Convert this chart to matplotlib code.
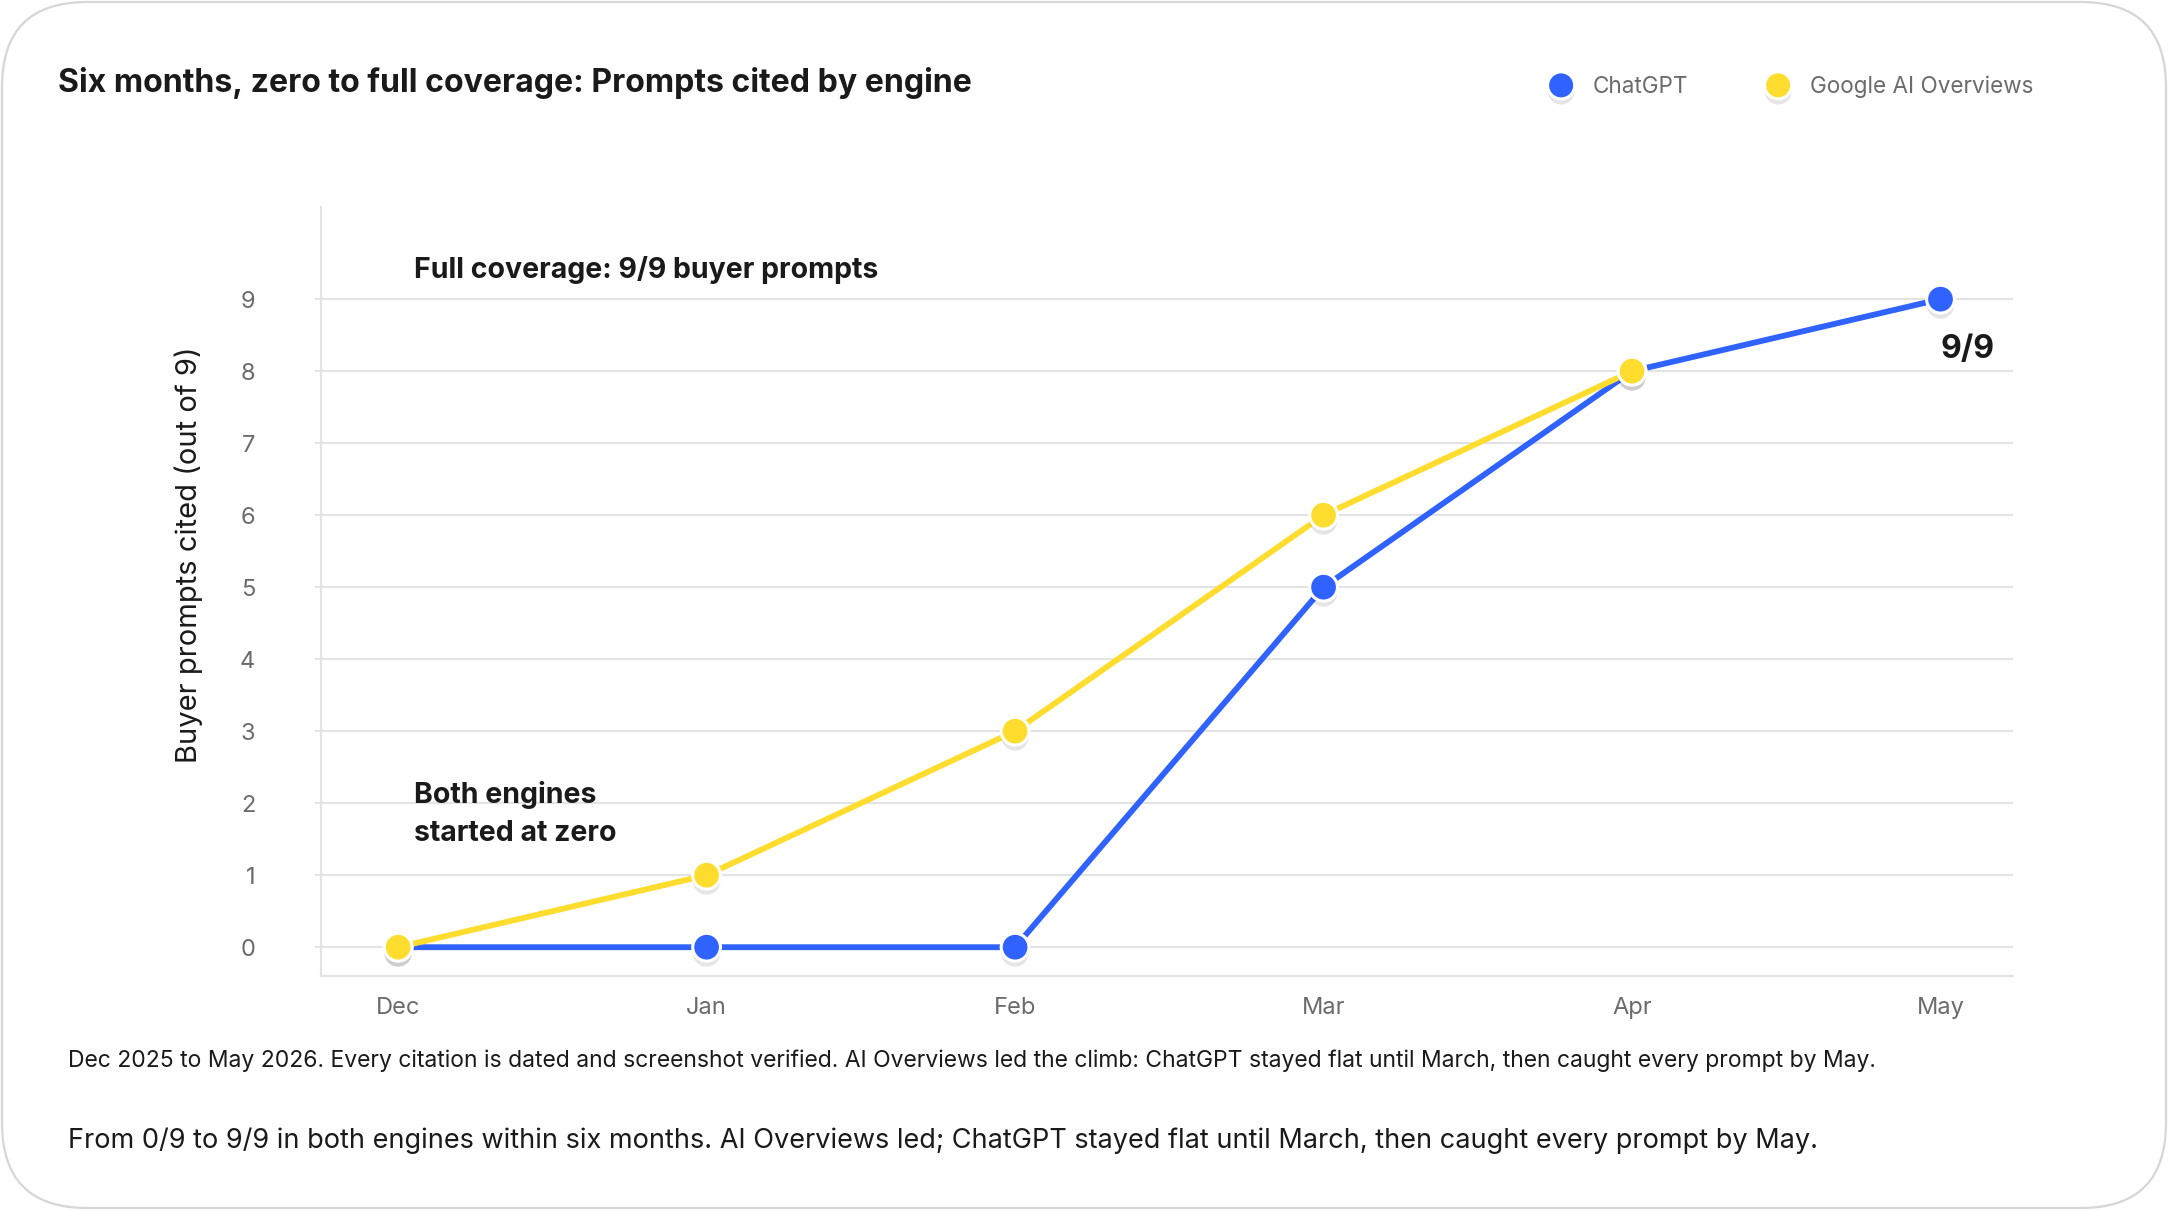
import matplotlib
matplotlib.use("Agg")
import matplotlib.pyplot as plt
from matplotlib.lines import Line2D
from matplotlib.patches import FancyBboxPatch
from matplotlib.transforms import IdentityTransform
import matplotlib.patheffects as pe

months = ["Dec", "Jan", "Feb", "Mar", "Apr", "May"]
chatgpt = [0, 0, 0, 5, 8, 9]
google_aio = [0, 1, 3, 6, 8]
y_ticks = [0, 1, 2, 3, 4, 5, 6, 7, 8, 9]

BLUE = "#2F62FF"
YELLOW = "#FFDD2E"
GRID = "#E3E3E3"
DARK = "#1A1A1A"
GRAY = "#6B6B6B"

plt.rcParams["font.family"] = ["Inter", "DejaVu Sans"]

W, H = 2168, 1210
fig = plt.figure(figsize=(W / 100, H / 100), dpi=100)
fig.patch.set_facecolor("white")

# rounded card border
card = FancyBboxPatch((2, 2), W - 4, H - 4, boxstyle="round,pad=0,rounding_size=85",
                      transform=IdentityTransform(), facecolor="white",
                      edgecolor="#D6D6D6", linewidth=1.6, zorder=0)
fig.add_artist(card)

ax = fig.add_axes([321 / W, 1 - 976 / H, (2013 - 321) / W, (976 - 207) / H])
ax.set_facecolor("none")
x_idx = list(range(len(months)))
ax.set_xlim(-0.25, 5.235)
ax.set_ylim(-0.40, 10.28)

ax.set_yticks(y_ticks)
ax.set_yticklabels([str(t) for t in y_ticks])
ax.set_xticks(x_idx)
ax.set_xticklabels(months)
ax.grid(axis="y", color=GRID, linewidth=1.5, zorder=1)
ax.grid(axis="x", visible=False)
ax.tick_params(axis="y", length=4.3, width=1.5, color=GRID, pad=43,
               labelsize=17, labelcolor=GRAY)
ax.tick_params(axis="x", length=0, pad=15, labelsize=17, labelcolor=GRAY)
for s in ["top", "right"]:
    ax.spines[s].set_visible(False)
for s in ["left", "bottom"]:
    ax.spines[s].set_color(GRID)
    ax.spines[s].set_linewidth(1.5)

shadow = [pe.SimplePatchShadow(offset=(0, -4), shadow_rgbFace="#000000", alpha=0.10),
          pe.Normal()]

ax.plot(x_idx[:len(chatgpt)], chatgpt, color=BLUE, linewidth=4.2, zorder=3,
        solid_capstyle="round")
ax.plot(x_idx[:len(google_aio)], google_aio, color=YELLOW, linewidth=4.2, zorder=4,
        solid_capstyle="round")
ax.plot(x_idx[:len(chatgpt)], chatgpt, linestyle="none", marker="o", markersize=20,
        markerfacecolor=BLUE, markeredgecolor="white", markeredgewidth=2.2, zorder=5,
        path_effects=shadow)
ax.plot(x_idx[:len(google_aio)], google_aio, linestyle="none", marker="o", markersize=20,
        markerfacecolor=YELLOW, markeredgecolor="white", markeredgewidth=2.2, zorder=6,
        path_effects=shadow)

ax.text(0.05, 9.40, "Full coverage: 9/9 buyer prompts", fontsize=20.5, fontweight="bold",
        color=DARK, ha="left", va="center")
ax.text(0.05, 1.85, "Both engines\nstarted at zero", fontsize=20.5, fontweight="bold",
        color=DARK, ha="left", va="center", linespacing=1.5)
ax.text(5.0, 8.30, "9/9", fontsize=23, fontweight="bold", color=DARK,
        ha="left", va="center")

fig.text(189 / W, 1 - 555 / H, "Buyer prompts cited (out of 9)", rotation=90,
         fontsize=21, color=DARK, ha="center", va="center")

fig.text(58 / W, 1 - 83 / H, "Six months, zero to full coverage: Prompts cited by engine",
         fontsize=23.1, fontweight="bold", color=DARK, ha="left", va="center")

handles = [Line2D([], [], linestyle="none", marker="o", markersize=19.5,
                  markerfacecolor=BLUE, markeredgecolor="white", markeredgewidth=2.2,
                  path_effects=shadow),
           Line2D([], [], linestyle="none", marker="o", markersize=19.5,
                  markerfacecolor=YELLOW, markeredgecolor="white", markeredgewidth=2.2,
                  path_effects=shadow)]
fig.legend(handles, ["ChatGPT", "Google AI Overviews"], loc="center right",
           bbox_to_anchor=(2033 / W, 1 - 87 / H), ncol=2, frameon=False,
           fontsize=16.2, labelcolor=GRAY, handletextpad=0.9, columnspacing=3.5,
           handlelength=1.0, borderpad=0, borderaxespad=0)

fig.text(68 / W, 1 - 1061 / H,
         "Dec 2025 to May 2026. Every citation is dated and screenshot verified. "
         "AI Overviews led the climb: ChatGPT stayed flat until March, then caught every prompt by May.",
         fontsize=16.5, color=DARK, ha="left", va="center")
fig.text(68 / W, 1 - 1141 / H,
         "From 0/9 to 9/9 in both engines within six months. AI Overviews led; "
         "ChatGPT stayed flat until March, then caught every prompt by May.",
         fontsize=19.5, color=DARK, ha="left", va="center")

fig.savefig("out.png", dpi=100, facecolor="white")
